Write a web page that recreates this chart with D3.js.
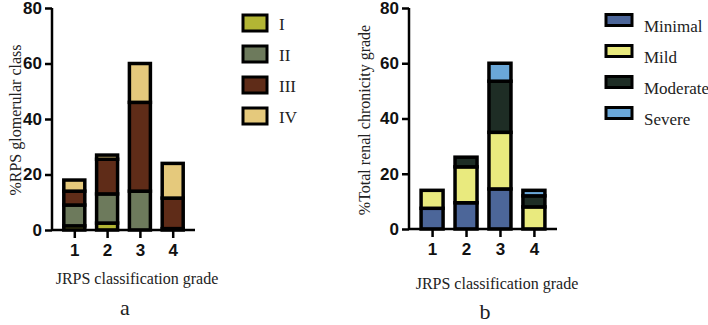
<!DOCTYPE html>
<head>
    <meta charset="utf-8">
    <title>JRPS stacked bars</title>
    <script src="https://d3js.org/d3.v7.min.js"></script>
    <style>
        body { margin: 0; background: #fff; }
        svg text.serif { font-family: "Liberation Serif", "DejaVu Serif", "Times New Roman", Times, serif !important; fill: #222; }
        .tick text { font-family: "Liberation Sans", Arial, sans-serif; font-weight: bold; font-size: 17px; fill: #111; }
    </style>
</head>

<body>
    <svg width="708" height="325"></svg>
    <script>
        // shared
        var grades = ["1", "2", "3", "4"];
        var yTicks = [0, 20, 40, 60, 80];

        // panel a - glomerular class
        var classKeys = ["I", "II", "III", "IV"];
        var classI = [1.5, 2.5, 0, 0];
        var classII = [7.5, 10.5, 14, 0.5];
        var classIII = [5, 12.5, 32, 11];
        var classIV = [4, 1.5, 14, 12.5];
        var classColors = ["#b2b534", "#6d7a5c", "#5f2c18", "#e5c97c"];

        // panel b - chronicity grade
        var chronKeys = ["Minimal", "Mild", "Moderate", "Severe"];
        var minimal = [7.5, 9.5, 14.5, 0];
        var mild = [6.5, 13, 20.5, 8];
        var moderate = [0, 3.5, 18.5, 4];
        var severe = [0, 0, 6.5, 2];
        var chronColors = ["#4c6699", "#e9ea7e", "#1e2d25", "#6aa7d8"];

        var serifFont = "'Liberation Serif', 'DejaVu Serif', 'Times New Roman', serif";
        var svg = d3.select("svg");

        function panel(cfg) {
            var rows = grades.map(function (g, i) {
                var r = { grade: g };
                cfg.keys.forEach(function (k, j) { r[k] = cfg.series[j][i]; });
                return r;
            });

            var x = d3.scalePoint().domain(grades).range([cfg.x0, cfg.x1]).padding(0.68);
            var y = d3.scaleLinear().domain([0, 80]).range([cfg.y0, 8]);
            var color = d3.scaleOrdinal(cfg.keys, cfg.colors);
            var stack = d3.stack().keys(cfg.keys)(rows);

            var g = svg.append("g");

            g.selectAll("g.layer")
                .data(stack)
                .enter()
                .append("g")
                .attr("class", "layer")
                .attr("fill", function (d) { return color(d.key); })
                .selectAll("rect")
                .data(function (d) { return d.filter(function (s) { return s[1] - s[0] > 0; }); })
                .enter()
                .append("rect")
                .attr("x", function (d) { return x(d.data.grade) - cfg.bw / 2; })
                .attr("width", cfg.bw)
                .attr("y", function (d) { return y(d[1]); })
                .attr("height", function (d) { return y(d[0]) - y(d[1]); })
                .attr("stroke", "#000")
                .attr("stroke-width", 3.5);

            var yAxis = g.append("g")
                .attr("transform", "translate(" + cfg.x0 + ",0)")
                .call(d3.axisLeft(y).tickValues(yTicks).tickSize(7).tickPadding(3));
            var xAxis = g.append("g")
                .attr("transform", "translate(0," + cfg.y0 + ")")
                .call(d3.axisBottom(x).tickSize(8).tickPadding(6));
            [yAxis, xAxis].forEach(function (a) {
                a.select(".domain").attr("stroke-width", 2.5).attr("stroke", "#000");
                a.selectAll(".tick line").attr("stroke-width", 2.5).attr("stroke", "#000");
            });
            yAxis.select(".domain").attr("d", "M0," + (cfg.y0 + 1) + "V" + y(80));
            xAxis.select(".domain").attr("d", "M" + cfg.x0 + ",0H" + cfg.x1);

            function serif(sel, size) {
                return sel.attr("class", "serif")
                    .attr("font-family", serifFont)
                    .style("font-family", serifFont)
                    .attr("font-size", size);
            }

            serif(g.append("text"), 16)
                .attr("transform", "translate(" + cfg.ytx + "," + cfg.yty + ") rotate(-90)")
                .attr("text-anchor", "middle")
                .attr("dominant-baseline", "central")
                .text(cfg.ytitle);

            serif(g.append("text"), 16)
                .attr("x", cfg.xtx)
                .attr("y", cfg.xty)
                .attr("text-anchor", "middle")
                .attr("dominant-baseline", "central")
                .text("JRPS classification grade");

            serif(g.append("text"), 22)
                .attr("x", cfg.lx)
                .attr("y", cfg.ly)
                .attr("text-anchor", "middle")
                .attr("dominant-baseline", "central")
                .text(cfg.letter);

            var leg = g.selectAll("g.leg")
                .data(cfg.keys)
                .enter()
                .append("g")
                .attr("class", "leg")
                .attr("transform", function (d, i) { return "translate(" + cfg.legX + "," + (cfg.legY + i * 31) + ")"; });
            leg.append("rect")
                .attr("x", 0)
                .attr("y", -cfg.sh / 2)
                .attr("width", cfg.sw)
                .attr("height", cfg.sh)
                .attr("fill", function (d) { return color(d); })
                .attr("stroke", "#000")
                .attr("stroke-width", 3);
            serif(leg.append("text"), 17)
                .attr("x", cfg.sw + 12)
                .attr("y", cfg.tdy)
                .attr("dominant-baseline", "central")
                .text(function (d) { return d; });
        }

        panel({
            keys: classKeys, series: [classI, classII, classIII, classIV], colors: classColors,
            x0: 52, x1: 195, y0: 230, bw: 21,
            ytitle: "%RPS glomerular class", ytx: 15, yty: 120,
            xtx: 137, xty: 278, letter: "a", lx: 125, ly: 307,
            legX: 243, legY: 23, sw: 24, sh: 16, tdy: 1
        });

        panel({
            keys: chronKeys, series: [minimal, mild, moderate, severe], colors: chronColors,
            x0: 409, x1: 557, y0: 229, bw: 22,
            ytitle: "%Total renal chronicity grade", ytx: 364, yty: 120,
            xtx: 497, xty: 283, letter: "b", lx: 485, ly: 311,
            legX: 606, legY: 20, sw: 26, sh: 11, tdy: 6
        });
    </script>
</body>
